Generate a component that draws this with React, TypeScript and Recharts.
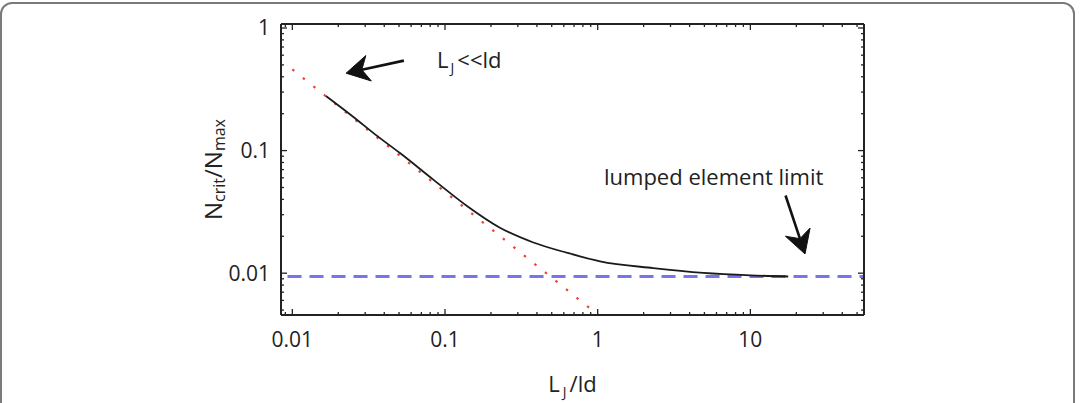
import React from 'react';
import { LineChart, Line, XAxis, YAxis, ReferenceLine, ReferenceDot } from 'recharts';

// ---- axes ----
const xDomain = [0.00843, 55.5];
const yDomain = [0.00456, 1.078];
const xMajorTicks = [0.01, 0.1, 1, 10];
const xMajorLabels = ['0.01', '0.1', '1', '10'];
const xMinorTicks = [0.009, 0.02, 0.03, 0.04, 0.05, 0.06, 0.07, 0.08, 0.09, 0.2, 0.3, 0.4, 0.5, 0.6, 0.7, 0.8, 0.9, 2, 3, 4, 5, 6, 7, 8, 9, 20, 30, 40, 50];
const yMajorTicks = [0.01, 0.1, 1];
const yMajorLabels = ['0.01', '0.1', '1'];
const yMinorTicks = [0.005, 0.006, 0.007, 0.008, 0.009, 0.02, 0.03, 0.04, 0.05, 0.06, 0.07, 0.08, 0.09, 0.2, 0.3, 0.4, 0.5, 0.6, 0.7, 0.8, 0.9];

// ---- series ----
const nCritX = [0.0166, 0.025, 0.035, 0.0507, 0.0838, 0.14, 0.229, 0.379, 0.626, 1.036, 2.31, 4.92, 10, 17.7];
const nCritY = [0.279, 0.189, 0.135, 0.0955, 0.058, 0.0352, 0.0235, 0.0178, 0.0147, 0.0125, 0.011, 0.01005, 0.0096, 0.0094];
const asymX = [0.01, 1];
const asymY = [0.46, 0.0046];
const lumpedX = [0.0093, 55.5];
const lumpedY = [0.0094, 0.0094];

// ---- annotations (data coordinates) ----
const arrowSmall = [{ x: 0.0538, y: 0.542 }, { x: 0.0225, y: 0.428 }];
const arrowLumped = [{ x: 17.0, y: 0.043 }, { x: 22.8, y: 0.01435 }];
const smallLabelPos = { x: 0.0887, y: 0.473 };
const lumpedLabelPos = { x: 1.1, y: 0.0525 };
const lumpedLabel = 'lumped element limit';

const zip = (xs: number[], ys: number[]) => xs.map((x, i) => ({ x, y: ys[i] }));
const nCritData = zip(nCritX, nCritY);
const asymData = zip(asymX, asymY);
const lumpedData = zip(lumpedX, lumpedY);

const FONT = "'Open Sans', sans-serif";
const INK = '#222';
const allX = [...xMajorTicks, ...xMinorTicks];
const allY = [...yMajorTicks, ...yMinorTicks];

const BottomTick = (p: any) => {
  const i = xMajorTicks.indexOf(p.payload.value);
  const len = i >= 0 ? 6 : 3;
  return (
    <g>
      <line x1={p.x} y1={p.y} x2={p.x} y2={p.y - len} stroke={INK} strokeWidth={1.3} />
      {i >= 0 && (
        <text x={p.x} y={p.y + 32} textAnchor="middle" fontSize={21} fontFamily={FONT} fill={INK}>
          {xMajorLabels[i]}
        </text>
      )}
    </g>
  );
};
const TopTick = (p: any) => {
  const len = xMajorTicks.indexOf(p.payload.value) >= 0 ? 6 : 3;
  return <line x1={p.x} y1={p.y} x2={p.x} y2={p.y + len} stroke={INK} strokeWidth={1.3} />;
};
const LeftTick = (p: any) => {
  const i = yMajorTicks.indexOf(p.payload.value);
  const len = i >= 0 ? 6 : 3;
  return (
    <g>
      <line x1={p.x} y1={p.y} x2={p.x + len} y2={p.y} stroke={INK} strokeWidth={1.3} />
      {i >= 0 && (
        <text x={p.x - 11} y={p.y + 7.5} textAnchor="end" fontSize={21} fontFamily={FONT} fill={INK}>
          {yMajorLabels[i]}
        </text>
      )}
    </g>
  );
};
const RightTick = (p: any) => {
  const len = yMajorTicks.indexOf(p.payload.value) >= 0 ? 6 : 3;
  return <line x1={p.x} y1={p.y} x2={p.x - len} y2={p.y} stroke={INK} strokeWidth={1.3} />;
};

const XTitle = (p: any) => {
  const vb = p.viewBox || { x: 281, y: 315, width: 583, height: 40 };
  const cx = vb.x + vb.width / 2;
  return (
    <text x={cx} y={vb.y + 77} textAnchor="middle" fontSize={22} fontFamily={FONT} fill={INK}>
      L
      <tspan fontSize={14} dx={3} dy={5}>J</tspan>
      <tspan dx={3} dy={-5}>/ld</tspan>
    </text>
  );
};
const YTitle = (p: any) => {
  const vb = p.viewBox || { x: 221, y: 24, width: 60, height: 291 };
  const bx = vb.x + 1;
  const cy = vb.y + vb.height / 2;
  return (
    <text x={bx} y={cy} transform={`rotate(-90 ${bx} ${cy})`} textAnchor="middle" fontSize={24} fontFamily={FONT} fill={INK}>
      N
      <tspan fontSize={16} dy={3}>crit</tspan>
      <tspan dy={-3}>/N</tspan>
      <tspan fontSize={16} dy={3}>max</tspan>
    </text>
  );
};

const Arrow = (p: any) => {
  const { x1, y1, x2, y2 } = p;
  const dx = x2 - x1;
  const dy = y2 - y1;
  const d = Math.hypot(dx, dy) || 1;
  const ux = dx / d;
  const uy = dy / d;
  const nx = -uy;
  const ny = ux;
  const L = 23;
  const W = 13;
  const bx = x2 - L * ux;
  const by = y2 - L * uy;
  const kx = x2 - 0.7 * L * ux;
  const ky = y2 - 0.7 * L * uy;
  const head = `M${x2},${y2} L${bx + W * nx},${by + W * ny} L${kx},${ky} L${bx - W * nx},${by - W * ny} Z`;
  return (
    <g>
      <line x1={x1} y1={y1} x2={kx} y2={ky} stroke="#111" strokeWidth={2.6} />
      <path d={head} fill="#111" stroke="#111" strokeWidth={1} strokeLinejoin="round" />
    </g>
  );
};

const SmallLabel = (p: any) => (
  <text x={p.cx} y={p.cy} fontSize={22} fontFamily={FONT} fill={INK}>
    L
    <tspan fontSize={14} dx={2} dy={5}>J</tspan>
    <tspan dx={3} dy={-5}>{'<<ld'}</tspan>
  </text>
);
const LumpedLabel = (p: any) => (
  <text x={p.cx} y={p.cy} fontSize={22} fontFamily={FONT} fill={INK}>
    {lumpedLabel}
  </text>
);

export default function App() {
  return (
    <div style={{ position: 'absolute', left: 0, top: 0, width: 1081, height: 403, overflow: 'hidden', background: '#fff' }}>
      <div
        style={{
          position: 'absolute',
          left: 0,
          top: 2,
          width: 1071,
          height: 460,
          border: '2px solid #7a7a7a',
          borderRadius: 12,
        }}
      />
      <div style={{ position: 'absolute', left: 0, top: 0 }}>
        <LineChart width={1081} height={403} margin={{ top: 23, right: 216, bottom: 48, left: 221 }}>
          <XAxis
            xAxisId={0}
            dataKey="x"
            type="number"
            scale="log"
            domain={xDomain}
            allowDataOverflow
            ticks={allX}
            interval={0}
            tickSize={0}
            tickMargin={0}
            tickLine={false}
            tick={BottomTick}
            axisLine={{ stroke: INK, strokeWidth: 2 }}
            height={40}
            label={{ content: XTitle }}
          />
          <XAxis
            xAxisId="top"
            orientation="top"
            dataKey="x"
            type="number"
            scale="log"
            domain={xDomain}
            allowDataOverflow
            ticks={allX}
            interval={0}
            tickSize={0}
            tickMargin={0}
            tickLine={false}
            tick={TopTick}
            axisLine={{ stroke: INK, strokeWidth: 2 }}
            height={1}
          />
          <YAxis
            yAxisId={0}
            type="number"
            scale="log"
            domain={yDomain}
            allowDataOverflow
            ticks={allY}
            interval={0}
            tickSize={0}
            tickMargin={0}
            tickLine={false}
            tick={LeftTick}
            axisLine={{ stroke: INK, strokeWidth: 2 }}
            width={60}
            label={{ content: YTitle }}
          />
          <YAxis
            yAxisId="right"
            orientation="right"
            type="number"
            scale="log"
            domain={yDomain}
            allowDataOverflow
            ticks={allY}
            interval={0}
            tickSize={0}
            tickMargin={0}
            tickLine={false}
            tick={RightTick}
            axisLine={{ stroke: INK, strokeWidth: 2 }}
            width={1}
          />
          <Line data={asymData} dataKey="y" type="linear" stroke="#e8443a" strokeWidth={2.2} strokeDasharray="2.5 11" dot={false} isAnimationActive={false} />
          <Line data={lumpedData} dataKey="y" type="linear" stroke="#7775ee" strokeWidth={3} strokeDasharray="14 8" dot={false} isAnimationActive={false} />
          <Line data={nCritData} dataKey="y" type="monotone" stroke="#1a1a1a" strokeWidth={1.8} dot={false} isAnimationActive={false} />
          <ReferenceLine segment={arrowSmall} shape={Arrow} ifOverflow="visible" />
          <ReferenceLine segment={arrowLumped} shape={Arrow} ifOverflow="visible" />
          <ReferenceDot x={smallLabelPos.x} y={smallLabelPos.y} shape={SmallLabel} ifOverflow="visible" />
          <ReferenceDot x={lumpedLabelPos.x} y={lumpedLabelPos.y} shape={LumpedLabel} ifOverflow="visible" />
        </LineChart>
      </div>
    </div>
  );
}
